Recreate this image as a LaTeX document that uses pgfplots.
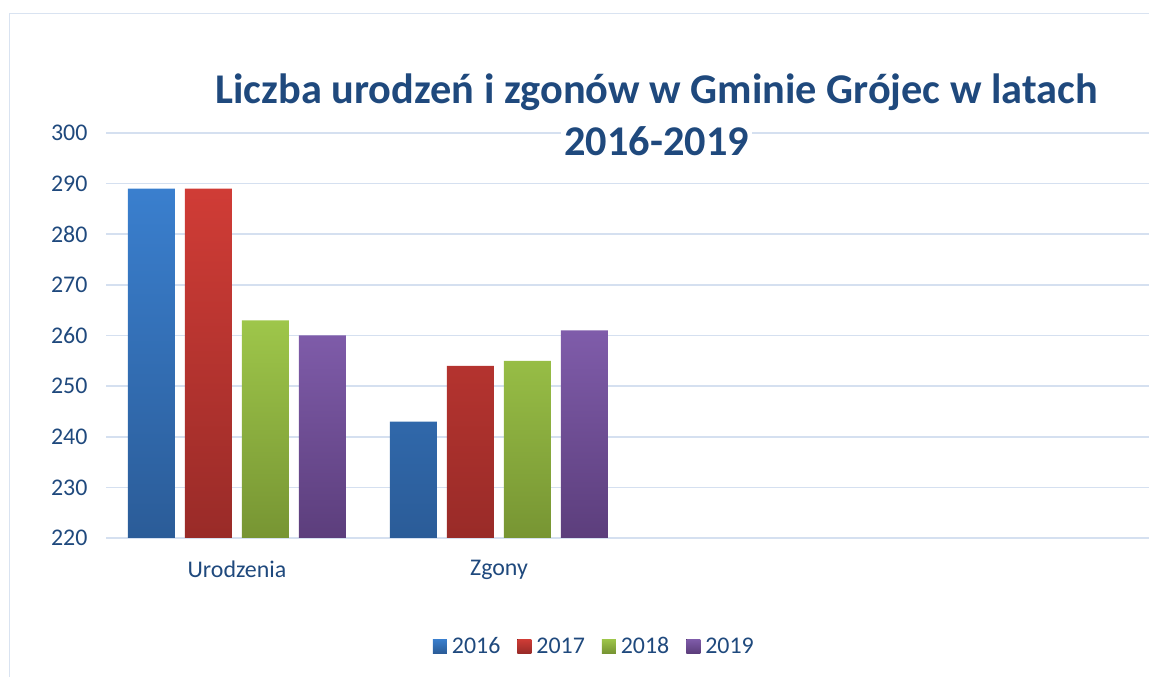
\documentclass[border=0pt]{standalone}
\usepackage{fontspec}
\setmainfont{Carlito}
\usepackage{pgfplots}
\pgfplotsset{compat=1.18}
\definecolor{txt}{HTML}{1F497D}
\definecolor{gridc}{HTML}{D5E0F0}
\definecolor{framec}{HTML}{D9E3F1}
\definecolor{bT}{HTML}{3A7FCE}\definecolor{bB}{HTML}{2B5C98}
\definecolor{rT}{HTML}{D03C36}\definecolor{rB}{HTML}{992B28}
\definecolor{gT}{HTML}{9EC64A}\definecolor{gB}{HTML}{779533}
\definecolor{pT}{HTML}{7F5CAA}\definecolor{pB}{HTML}{5C3E7C}
\begin{document}
\begin{tikzpicture}[x=1bp,y=1bp]
\begin{axis}[
  at={(106bp,139bp)}, anchor=south west,
  width=1048bp, height=405bp, scale only axis,
  xmin=-0.5, xmax=3.5, ymin=220, ymax=300,
  ytick distance=10,
  xtick={0,1}, xticklabels={Urodzenia,Zgony},
  axis line style={draw=none},
  major tick length=0pt,
  ymajorgrids, grid style={color=gridc, line width=1.6bp},
  ybar=10bp, bar width=47bp,
  tick label style={font=\fontsize{24}{28}\selectfont, text=txt},
  /pgf/number format/assume math mode=true,
  yticklabel style={xshift=-15bp},
  xticklabel style={yshift=-19bp},
  title={Liczba urodzeń i zgonów w Gminie Grójec w latach\\\colorbox{white}{2016-2019}},
  title style={at={(axis description cs:0.5255,1)}, anchor=center, yshift=11bp,
    align=center, font=\fontsize{42.5}{52}\selectfont\bfseries, text=txt, inner sep=0bp},
  legend columns=-1,
  legend style={at={(axis description cs:0.466,0)}, anchor=center, yshift=-108bp,
    draw=none, fill=none, font=\fontsize{24}{28}\selectfont, text=txt,
    /tikz/every even column/.append style={column sep=15bp}},
  legend image code/.code={\fill[#1] (0bp,-7bp) rectangle (14bp,7bp);\path (0bp,0bp) -- (17bp,0bp);},
]
\addplot[draw=none, top color=bT, bottom color=bB] coordinates {(0,289) (1,243)};
\addplot[draw=none, top color=rT, bottom color=rB] coordinates {(0,289) (1,254)};
\addplot[draw=none, top color=gT, bottom color=gB] coordinates {(0,263) (1,255)};
\addplot[draw=none, top color=pT, bottom color=pB] coordinates {(0,260) (1,261)};
\legend{2016,2017,2018,2019}
\end{axis}
\draw[color=framec, line width=1.6bp] (9.5bp,-10bp) -- (9.5bp,663.5bp) -- (1160bp,663.5bp);
\pgfresetboundingbox
\path[use as bounding box] (0,0) rectangle (1149bp,677bp);
\end{tikzpicture}
\end{document}
